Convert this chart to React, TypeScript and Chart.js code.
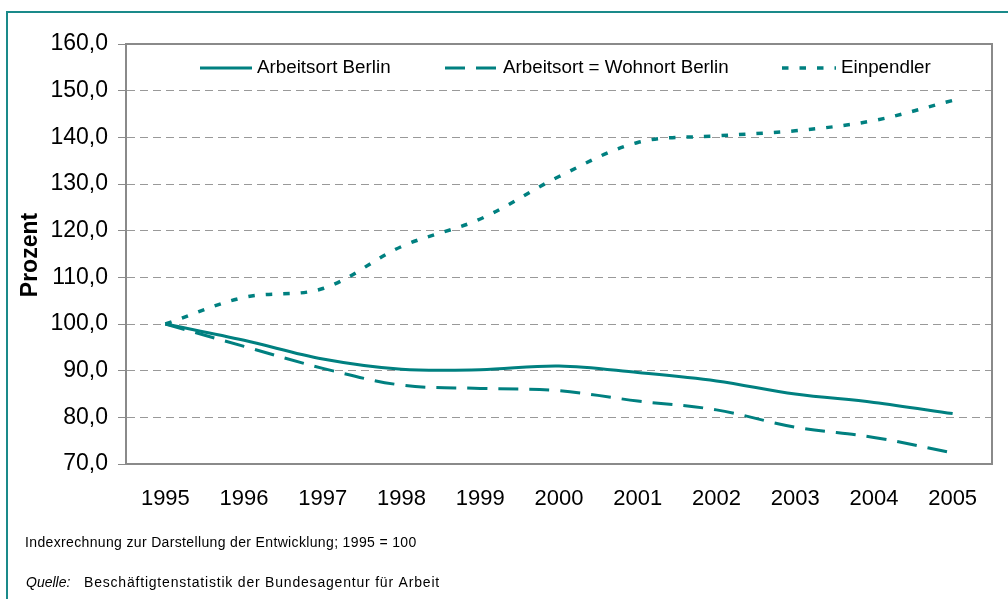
import React, { useEffect, useRef } from "react";
import { Chart, registerables } from "chart.js";

Chart.register(...registerables);

const years = ["1995", "1996", "1997", "1998", "1999", "2000", "2001", "2002", "2003", "2004", "2005"];
const arbeitsortBerlin = [100, 96.5, 92.5, 90.3, 90.2, 91.0, 89.6, 87.8, 85.0, 83.2, 80.8];
const arbeitsortWohnort = [100, 95.2, 90.5, 86.9, 86.2, 85.7, 83.5, 81.6, 77.9, 75.7, 72.4];
const einpendler = [100, 105.7, 107.6, 116.6, 122.5, 131.6, 138.9, 140.3, 141.4, 143.6, 147.9];

const seriesLabels = ["Arbeitsort Berlin", "Arbeitsort = Wohnort Berlin", "Einpendler"];
const footnote = "Indexrechnung zur Darstellung der Entwicklung; 1995 = 100";
const sourceLabel = "Quelle:";
const sourceText = "Beschäftigtenstatistik der Bundesagentur für Arbeit";
const yTitle = "Prozent";

const TEAL = "#008080";
const FONT = "'Liberation Sans', Arial, sans-serif";

const legendPos = [
  { x0: 200, x1: 252, tx: 257 },
  { x0: 445, x1: 497, tx: 503 },
  { x0: 782, x1: 836, tx: 841 },
];

const decorPlugin = {
  id: "decor",
  afterDraw(chart: any) {
    const ctx = chart.ctx;
    const a = chart.chartArea;
    ctx.save();
    // plot border
    ctx.strokeStyle = "#8a8a8a";
    ctx.lineWidth = 2;
    ctx.setLineDash([]);
    ctx.beginPath();
    ctx.moveTo(a.left, a.bottom);
    ctx.lineTo(a.left, a.top);
    ctx.lineTo(a.right, a.top);
    ctx.lineTo(a.right, a.bottom);
    ctx.stroke();

    // legend
    chart.data.datasets.forEach((ds: any, i: number) => {
      const p = legendPos[i];
      const y = 68;
      ctx.strokeStyle = ds.borderColor;
      ctx.lineWidth = ds.borderWidth;
      ctx.setLineDash(ds.borderDash || []);
      ctx.lineCap = "butt";
      ctx.beginPath();
      ctx.moveTo(p.x0, y);
      ctx.lineTo(p.x1, y);
      ctx.stroke();
      ctx.setLineDash([]);
      ctx.fillStyle = "#000";
      ctx.font = `18.8px ${FONT}`;
      ctx.textBaseline = "middle";
      ctx.textAlign = "left";
      ctx.fillText(ds.label, p.tx, y);
    });

    // y title
    ctx.save();
    ctx.translate(31, 255);
    ctx.rotate(-Math.PI / 2);
    ctx.font = `bold 23px ${FONT}`;
    ctx.fillStyle = "#000";
    ctx.textAlign = "center";
    ctx.textBaseline = "middle";
    ctx.fillText(yTitle, 0, 0);
    ctx.restore();

    // footnotes
    ctx.fillStyle = "#000";
    ctx.textAlign = "left";
    ctx.textBaseline = "alphabetic";
    ctx.font = `14px ${FONT}`;
    (ctx as any).letterSpacing = "0.35px";
    ctx.fillText(footnote, 25, 547);
    (ctx as any).letterSpacing = "0px";
    ctx.font = `italic 14px ${FONT}`;
    ctx.fillText(sourceLabel, 26, 587);
    ctx.font = `14px ${FONT}`;
    (ctx as any).letterSpacing = "0.8px";
    ctx.fillText(sourceText, 84, 587);
    (ctx as any).letterSpacing = "0px";
    ctx.restore();
  },
};

export default function App() {
  const ref = useRef<HTMLCanvasElement>(null);
  useEffect(() => {
    if (!ref.current) return;
    const chart = new Chart(ref.current, {
      type: "line",
      data: {
        labels: years,
        datasets: [
          {
            label: seriesLabels[0],
            data: arbeitsortBerlin,
            borderColor: TEAL,
            borderWidth: 3,
            pointRadius: 0,
            tension: 0.35,
            fill: false,
          },
          {
            label: seriesLabels[1],
            data: arbeitsortWohnort,
            borderColor: TEAL,
            borderWidth: 3,
            borderDash: [20, 11],
            pointRadius: 0,
            tension: 0.35,
            fill: false,
          },
          {
            label: seriesLabels[2],
            data: einpendler,
            borderColor: TEAL,
            borderWidth: 3.5,
            borderDash: [6.5, 11],
            pointRadius: 0,
            tension: 0.35,
            fill: false,
          },
        ],
      },
      options: {
        responsive: false,
        animation: false,
        layout: { padding: { left: 0, top: 44, right: 16, bottom: 0 } },
        plugins: { legend: { display: false }, tooltip: { enabled: false }, title: { display: false } },
        scales: {
          x: {
            type: "category",
            offset: true,
            grid: { display: false, drawTicks: false },
            border: { display: true, color: "#8a8a8a", width: 2 },
            ticks: {
              color: "#000",
              font: { family: FONT, size: 22 },
              padding: 22,
              maxRotation: 0,
              autoSkip: false,
            },
            afterFit: (scale: any) => {
              scale.height = 135;
            },
          },
          y: {
            min: 70,
            max: 160,
            grid: { color: "#999", lineWidth: 1, tickLength: 8, tickColor: "#8a8a8a", drawTicks: true },
            border: { display: true, color: "#8a8a8a", width: 2, dash: [8, 5] },
            ticks: {
              stepSize: 10,
              color: "#000",
              font: { family: FONT, size: 23 },
              padding: 10,
              callback: (v: any) => Number(v).toFixed(1).replace(".", ","),
            },
            afterFit: (scale: any) => {
              scale.width = 126;
            },
          },
        },
      },
      plugins: [decorPlugin],
    });
    return () => chart.destroy();
  }, []);

  return (
    <div style={{ position: "fixed", left: 0, top: 0, width: 1008, height: 599, background: "#fff", overflow: "hidden" }}>
      <div
        style={{
          position: "absolute",
          left: 6,
          top: 11,
          width: 1100,
          height: 700,
          borderLeft: "2px solid #1a8a8a",
          borderTop: "2px solid #1a8a8a",
        }}
      />
      <canvas ref={ref} width={1008} height={599} style={{ position: "absolute", left: 0, top: 0 }} />
    </div>
  );
}
